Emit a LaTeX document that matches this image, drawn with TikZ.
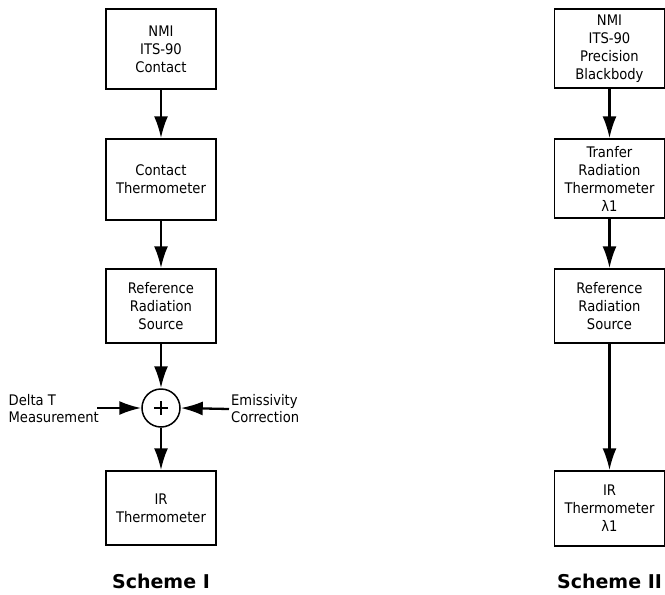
\documentclass[tikz,border=0pt]{standalone}
\usepackage{fontspec}
\setmainfont{DejaVu Sans Condensed}
\newfontfamily\headfont{DejaVu Sans}
\usetikzlibrary{arrows.meta}
\tikzset{
  box/.style = {draw, line width=1.5pt, minimum width=110pt, minimum height=74pt, inner sep=3pt, align=center, font=\fontsize{14.6}{18}\selectfont},
  arr/.style = {line width=2.3pt, -{Latex[length=22pt,width=14pt]}},
  lbl/.style = {align=left, inner sep=2pt, font=\fontsize{14.6}{17}\selectfont},
  head/.style = {font=\headfont\bfseries\fontsize{19}{21}\selectfont}
}
\begin{document}
\begin{tikzpicture}[x=1pt, y=-1pt]
\useasboundingbox (0,0) rectangle (665,595);

\node[box, minimum height=80pt] (nmi) at (161,49) {NMI\\ITS-90\\Contact};
\node[box, minimum height=81pt] (ct) at (161,179.5) {Contact\\Thermometer};
\node[box] (rrs) at (161,306) {Reference\\Radiation\\Source};
\node[circle, draw, line width=1.5pt, minimum size=38pt, inner sep=0pt] (sum) at (161,408) {};
\node[box] (ir) at (161,508) {IR\\Thermometer};
\draw[line width=1.2pt] (sum.center) +(-7,0) -- +(7,0) (sum.center) +(0,-7) -- +(0,7);

\node[lbl, anchor=east] (dlt) at (101,409) {Delta T\\Measurement};
\node[lbl, anchor=west] (emi) at (229,409) {Emissivity\\Correction};
\coordinate (din) at (97,408);

\draw[arr] (nmi) -- (ct);
\draw[arr] (ct) -- (rrs);
\draw[arr] (rrs) -- (sum);
\draw[arr] (sum) -- (ir);
\draw[arr] (din) -- (sum.west);
\draw[arr] (emi.west) -- (sum.east);

\node[box, minimum height=79pt] (bb) at (609.5,48.5) {NMI\\ITS-90\\Precision\\Blackbody};
\node[box, minimum height=79pt] (trt) at (609.5,178.5) {Tranfer\\Radiation\\Thermometer\\λ1};
\node[box] (rrs2) at (609.5,306) {Reference\\Radiation\\Source};
\node[box, minimum height=75pt] (ir2) at (609.5,508.5) {IR\\Thermometer\\λ1};

\draw[arr] (bb) -- (trt);
\draw[arr] (trt) -- (rrs2);
\draw[arr] (rrs2) -- (ir2);

\node[head] (s1) at (161,581) {Scheme I};
\node[head] (s2) at (609.5,581) {Scheme II};
\end{tikzpicture}
\end{document}
